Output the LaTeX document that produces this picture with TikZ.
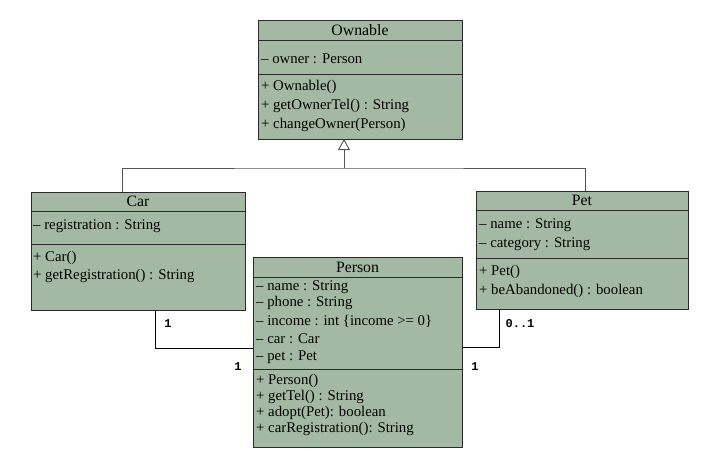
\documentclass[tikz,border=0pt]{standalone}
\usepackage{fontspec}
\setmainfont{Liberation Serif}
\newfontfamily\monob{Liberation Mono}
\usetikzlibrary{arrows.meta}
\definecolor{clsfill}{HTML}{A3B9A3}
\definecolor{clsline}{HTML}{2A2A2A}
\definecolor{inhline}{HTML}{555555}
\tikzset{
  cls/.style={draw=clsline, fill=clsfill, line width=0.9pt, inner sep=0pt, outer sep=0pt, rectangle},
  sep/.style={draw=clsline, line width=0.9pt},
  ttl/.style={font=\fontsize{15.8}{17}\selectfont, inner sep=0pt, anchor=center},
  mem/.style={font=\fontsize{14.8}{16}\selectfont, inner sep=0pt, anchor=west},
  inh/.style={draw=inhline, line width=0.9pt},
  assoc/.style={draw=black, line width=0.9pt},
  mult/.style={font=\monob\bfseries\fontsize{12}{13}\selectfont, inner sep=0pt, anchor=center}
}
\begin{document}
\begin{tikzpicture}[x=1pt,y=-1pt]
\useasboundingbox (0,0) rectangle (722,450);
% Ownable
\node[cls, minimum width=204pt, minimum height=119pt] (ownable) at (360,79.5) {};
\draw[sep] (258,40) -- (462,40);
\draw[sep] (258,74) -- (462,74);
\node[ttl] (ownT) at (360,30) {Ownable};
\node[mem] (ownA1) at (261,59) {– owner : Person};
\node[mem] (ownM1) at (261,87) {+ Ownable()};
\node[mem] (ownM2) at (261,106) {+ getOwnerTel() : String};
\node[mem] (ownM3) at (261,125) {+ changeOwner(Person)};
% Car
\node[cls, minimum width=214pt, minimum height=118pt] (car) at (138,251) {};
\draw[sep] (31,211) -- (245,211);
\draw[sep] (31,244) -- (245,244);
\node[ttl] (carT) at (138,201.5) {Car};
\node[mem] (carA1) at (33,226) {– registration : String};
\node[mem] (carM1) at (33,258) {+ Car()};
\node[mem] (carM2) at (33,276) {+ getRegistration() : String};
% Pet
\node[cls, minimum width=212pt, minimum height=118pt] (pet) at (582,250) {};
\draw[sep] (476,210) -- (688,210);
\draw[sep] (476,258) -- (688,258);
\node[ttl] (petT) at (582,200.5) {Pet};
\node[mem] (petA1) at (479,225) {– name : String};
\node[mem] (petA2) at (479,244) {– category : String};
\node[mem] (petM1) at (479,272) {+ Pet()};
\node[mem] (petM2) at (479,291) {+ beAbandoned() : boolean};
% Person
\node[cls, minimum width=209pt, minimum height=190pt] (person) at (357.5,352) {};
\draw[sep] (253,277) -- (462,277);
\draw[sep] (253,369) -- (462,369);
\node[ttl] (perT) at (357.5,267.5) {Person};
\node[mem] (perA1) at (256,287) {– name : String};
\node[mem] (perA2) at (256,303) {– phone : String};
\node[mem] (perA3) at (256,321) {– income : int \{income >= 0\}};
\node[mem] (perA4) at (256,338.5) {– car : Car};
\node[mem] (perA5) at (256,357) {– pet : Pet};
\node[mem] (perM1) at (256,381) {+ Person()};
\node[mem] (perM2) at (256,397) {+ getTel() : String};
\node[mem] (perM3) at (256,412.5) {+ adopt(Pet): boolean};
\node[mem] (perM4) at (256,428.5) {+ carRegistration(): String};
% Inheritance
\coordinate (junc) at (344,168);
\draw[inh, -{Triangle[open, length=11pt, width=12pt]}] (junc) -- ([xshift=-16pt]ownable.south);
\draw[inh] ([xshift=-16pt]car.north) |- (junc) -| ([xshift=3pt]pet.north);
% Associations
\draw[assoc] ([xshift=17pt]car.south) |- ([yshift=4pt]person.west);
\draw[assoc] ([xshift=-83pt]pet.south) |- ([yshift=4.5pt]person.east);
\node[mult] (m1) at (168,324) {1};
\node[mult] (m2) at (238,367) {1};
\node[mult] (m3) at (520,324) {0..1};
\node[mult] (m4) at (475,367) {1};
\end{tikzpicture}
\end{document}
